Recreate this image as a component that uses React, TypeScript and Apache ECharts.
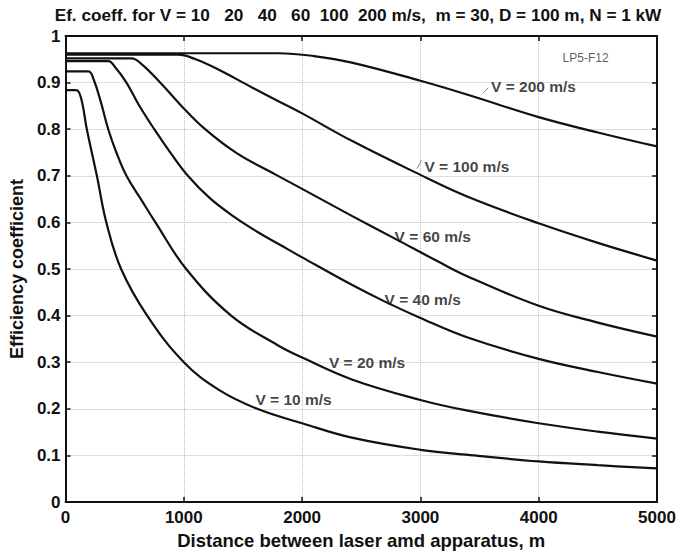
import React, { useEffect, useRef } from "react";
import * as echarts from "echarts";

// Tick values
const xTicks = [0, 1000, 2000, 3000, 4000, 5000];
const yTicks = [0, 0.1, 0.2, 0.3, 0.4, 0.5, 0.6, 0.7, 0.8, 0.9, 1];

// Curves (distance m -> efficiency coefficient)
const v10X = [0, 90, 130, 180, 265, 345, 470, 690, 1000, 1300, 1620, 2000, 2420, 3000, 3450, 4000, 4500, 5000];
const v10Y = [0.884, 0.884, 0.868, 0.8, 0.7, 0.6, 0.5, 0.4, 0.3, 0.24, 0.2, 0.169, 0.138, 0.112, 0.1, 0.087, 0.079, 0.072];

const v20X = [0, 193, 240, 300, 361, 430, 515, 637, 760, 1020, 1400, 1790, 2000, 2420, 3000, 3400, 4000, 4500, 5000];
const v20Y = [0.924, 0.924, 0.905, 0.857, 0.8, 0.75, 0.7, 0.65, 0.6, 0.5, 0.4, 0.337, 0.31, 0.263, 0.219, 0.196, 0.169, 0.151, 0.136];

const v40X = [0, 361, 420, 515, 620, 750, 880, 1034, 1220, 1420, 1620, 1820, 2000, 2420, 2700, 3000, 3400, 4000, 4500, 5000];
const v40Y = [0.946, 0.946, 0.933, 0.9, 0.852, 0.8, 0.752, 0.7, 0.652, 0.613, 0.58, 0.551, 0.525, 0.466, 0.43, 0.395, 0.353, 0.307, 0.279, 0.254];

const v60X = [0, 557, 650, 800, 980, 1180, 1450, 1780, 2000, 2420, 2800, 3150, 3400, 4000, 4500, 5000];
const v60Y = [0.952, 0.952, 0.938, 0.9, 0.85, 0.8, 0.748, 0.702, 0.672, 0.614, 0.563, 0.516, 0.484, 0.421, 0.385, 0.355];

const v100X = [0, 950, 1100, 1300, 1580, 1800, 2000, 2420, 3000, 3400, 4000, 4500, 5000];
const v100Y = [0.96, 0.96, 0.95, 0.927, 0.889, 0.86, 0.834, 0.775, 0.702, 0.655, 0.598, 0.556, 0.518];

const v200X = [0, 1800, 2100, 2420, 3000, 3400, 4000, 4500, 5000];
const v200Y = [0.963, 0.963, 0.957, 0.943, 0.904, 0.874, 0.826, 0.793, 0.763];

const curveNames = ["V = 10 m/s", "V = 20 m/s", "V = 40 m/s", "V = 60 m/s", "V = 100 m/s", "V = 200 m/s"];
const curveXs = [v10X, v20X, v40X, v60X, v100X, v200X];
const curveYs = [v10Y, v20Y, v40Y, v60Y, v100Y, v200Y];

// Label anchor points (data coordinates, left edge of text)
const labelX = [1605, 2227, 2697, 2782, 3034, 3597];
const labelY = [0.221, 0.3, 0.434, 0.57, 0.721, 0.891];

const tagText = "LP5-F12";
const tagPos = [4202, 0.953];

// small pointer strokes next to two labels
const pointer200 = [[3527, 0.877], [3574, 0.889]];
const pointer100 = [[2971, 0.715], [3008, 0.733]];

const titleText = "Ef. coeff. for V = 10   20   40   60  100  200 m/s,  m = 30, D = 100 m, N = 1 kW";
const xName = "Distance between laser amd apparatus, m";
const yName = "Efficiency coefficient";

const FONT = "Liberation Sans, Arial, Helvetica, sans-serif";

export default function App() {
  const ref = useRef<HTMLDivElement>(null);
  useEffect(() => {
    const chart = echarts.init(ref.current!, null, { renderer: "svg" });
    const curveSeries = curveNames.map((name, i) => ({
      type: "line",
      name,
      data: curveXs[i].map((x, j) => [x, curveYs[i][j]]),
      showSymbol: false,
      symbol: "none",
      smooth: 0.4,
      lineStyle: { color: "#111", width: 2.2 },
      z: 5,
    }));
    const labelSeries = {
      type: "scatter",
      symbolSize: 0,
      data: [
        ...curveNames.map((n, i) => ({ value: [labelX[i], labelY[i]], name: n, label: { fontWeight: "bold", fontSize: 15.5, color: "#111" } })),
        { value: tagPos, name: tagText, label: { fontWeight: "normal", fontSize: 12, color: "#333" } },
      ],
      label: {
        show: true,
        position: [0, 0],
        align: "left",
        verticalAlign: "middle",
        formatter: "{b}",
        fontFamily: FONT,
      },
      silent: true,
      z: 6,
    };
    const pointerSeries = [pointer200, pointer100].map((p) => ({
      type: "line",
      data: p,
      symbol: "none",
      lineStyle: { color: "#888", width: 1 },
      z: 4,
    }));
    chart.setOption({
      animation: false,
      backgroundColor: "#fff",
      textStyle: { fontFamily: FONT },
      grid: { left: 62, right: 28, top: 36, bottom: 49 },
      graphic: [
        {
          type: "text",
          x: 358,
          y: 15,
          style: {
            text: titleText,
            textAlign: "center",
            textVerticalAlign: "middle",
            fontFamily: FONT,
            fontSize: 17.2,
            fontWeight: "bold",
            fill: "#111",
          },
        },
      ],
      xAxis: [
        {
          type: "value",
          min: xTicks[0],
          max: xTicks[xTicks.length - 1],
          interval: xTicks[1] - xTicks[0],
          position: "bottom",
          name: xName,
          nameLocation: "middle",
          nameGap: 29,
          nameTextStyle: { fontFamily: FONT, fontSize: 18.5, fontWeight: "bold", color: "#111" },
          axisLine: { show: true, onZero: false, lineStyle: { color: "#111", width: 2 } },
          axisTick: { show: true, inside: true, length: 5, lineStyle: { color: "#111", width: 1.5 } },
          axisLabel: { color: "#111", fontSize: 17, fontWeight: "bold", margin: 7, fontFamily: FONT, formatter: (v: number) => String(v) },
          splitLine: { show: true, lineStyle: { color: "#bdbdbd", type: "dotted", width: 1 } },
        },
        {
          type: "value",
          min: xTicks[0],
          max: xTicks[xTicks.length - 1],
          interval: xTicks[1] - xTicks[0],
          position: "top",
          axisLine: { show: true, onZero: false, lineStyle: { color: "#111", width: 2 } },
          axisTick: { show: true, inside: true, length: 5, lineStyle: { color: "#111", width: 1.5 } },
          axisLabel: { show: false },
          splitLine: { show: false },
        },
      ],
      yAxis: [
        {
          type: "value",
          min: yTicks[0],
          max: yTicks[yTicks.length - 1],
          interval: 0.1,
          position: "left",
          name: yName,
          nameLocation: "middle",
          nameGap: 33,
          nameTextStyle: { fontFamily: FONT, fontSize: 18, fontWeight: "bold", color: "#111" },
          axisLine: { show: true, onZero: false, lineStyle: { color: "#111", width: 2 } },
          axisTick: { show: true, inside: true, length: 5, lineStyle: { color: "#111", width: 1.5 } },
          axisLabel: {
            color: "#111",
            fontSize: 17,
            fontWeight: "bold",
            margin: 5,
            fontFamily: FONT,
            formatter: (v: number) => String(Math.round(v * 10) / 10),
          },
          splitLine: { show: true, lineStyle: { color: "#bdbdbd", type: "dotted", width: 1 } },
        },
        {
          type: "value",
          min: yTicks[0],
          max: yTicks[yTicks.length - 1],
          interval: 0.1,
          position: "right",
          axisLine: { show: true, onZero: false, lineStyle: { color: "#111", width: 2 } },
          axisTick: { show: true, inside: true, length: 5, lineStyle: { color: "#111", width: 1.5 } },
          axisLabel: { show: false },
          splitLine: { show: false },
        },
      ],
      series: [...curveSeries, ...pointerSeries, labelSeries],
    });
    return () => chart.dispose();
  }, []);
  return <div ref={ref} style={{ position: "absolute", left: 0, top: 0, width: 685, height: 555 }} />;
}
